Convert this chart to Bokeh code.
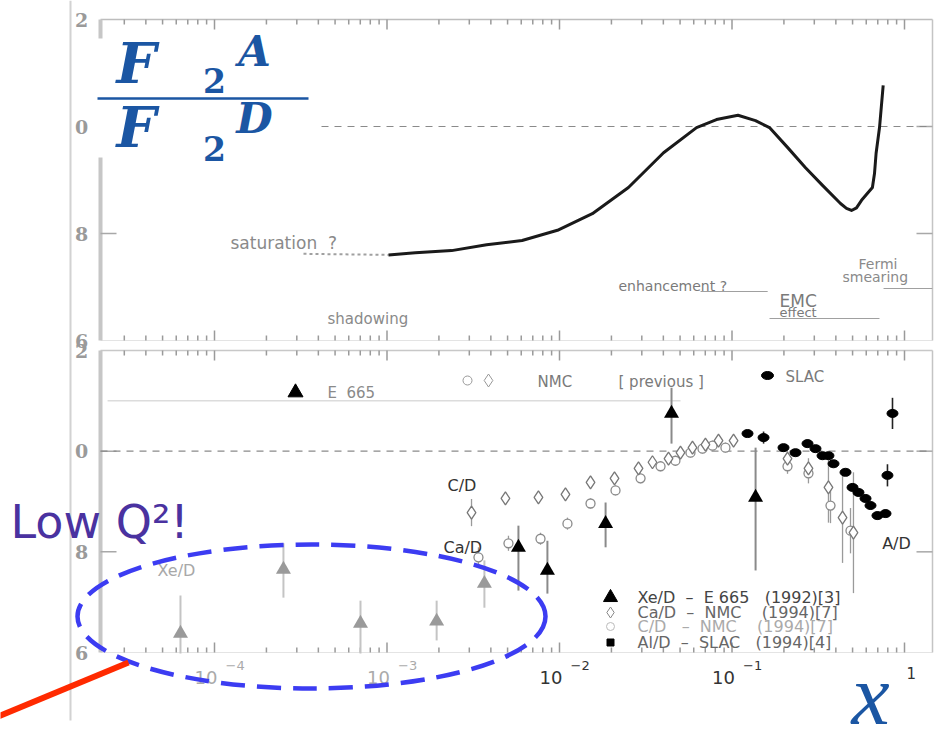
import math
from bokeh.plotting import figure
from bokeh.models import Range1d
from bokeh.core.properties import value
from bokeh.embed import file_html
from bokeh.resources import INLINE

# ---------------- data ----------------
# upper panel: calculated F2(A)/F2(D) curve
curve_x = [1.02e-3, 1.46e-3, 2.37e-3, 3.78e-3, 6.07e-3, 9.73e-3, 0.0155, 0.0251,
           0.0401, 0.0623, 0.0813, 0.1083, 0.1368, 0.1649, 0.2098, 0.2668,
           0.3348, 0.4256, 0.461, 0.4929, 0.527, 0.5634, 0.6516, 0.670, 0.6845,
           0.7164, 0.7524]
curve_y = [0.760, 0.764, 0.768, 0.779, 0.787, 0.806, 0.837, 0.886,
           0.951, 0.998, 1.013, 1.021, 1.011, 0.998, 0.961, 0.923,
           0.890, 0.856, 0.847, 0.843, 0.848, 0.862, 0.886, 0.912, 0.950,
           0.998, 1.077]
# speculative low-x continuation ("saturation ?")
sat_x = [3.28e-4, 1.02e-3]
sat_y = [0.762, 0.760]
# x-regions underlined below the curve: enhancement, EMC effect, Fermi smearing
region_x0 = [0.0657, 0.165, 0.756]
region_x1 = [0.161, 0.716, 1.45]

# lower panel: measured ratios
# Xe/D  E665 (1992)
xe_x = [6.35e-5, 2.51e-4, 7.02e-4, 1.94e-3, 3.67e-3, 5.78e-3, 8.51e-3, 0.0185, 0.0446, 0.137]
xe_y = [0.638, 0.765, 0.658, 0.662, 0.737, 0.809, 0.763, 0.856, 1.075, 0.908]
xe_lo = [0.598, 0.709, 0.598, 0.624, 0.689, 0.723, 0.717, 0.809, 1.015, 0.763]
xe_hi = [0.713, 0.817, 0.703, 0.703, 0.783, 0.852, 0.822, 0.898, 1.126, 1.007]
# C/D  NMC (1994)
cd_x = [3.09e-3, 4.86e-3, 7.55e-3, 0.01083, 0.01513, 0.02084, 0.02871, 0.03459, 0.04285,
        0.05028, 0.05902, 0.07016, 0.08351, 0.1021, 0.2098, 0.2775, 0.3624, 0.4373, 0.506]
cd_y = [0.878, 0.906, 0.908, 0.914, 0.938, 0.946, 0.966, 0.978, 0.985,
        0.997, 1.007, 1.013, 1.021, 1.021, 0.985, 0.966, 0.928, 0.868, 0.838]
cd_err = [0.027, 0.012, 0.012, 0.012, 0.012, 0.010, 0.010, 0.010, 0.010,
          0.010, 0.010, 0.010, 0.010, 0.010, 0.015, 0.020, 0.070, 0.090, 0.120]
# Ca/D  NMC (1994)
cad_x = [3.39e-3, 5.06e-3, 7.76e-3, 0.01112, 0.01513, 0.02112, 0.02951, 0.03852, 0.04699,
         0.05745, 0.06745, 0.07709, 0.09162, 0.2098, 0.2775, 0.3724, 0.4864]
cad_y = [0.789, 0.817, 0.826, 0.856, 0.896, 0.922, 0.946, 0.970, 0.981,
         0.997, 1.005, 1.011, 1.007, 0.970, 0.956, 0.892, 0.842]
cad_err = [0.020, 0.015, 0.012, 0.012, 0.010, 0.010, 0.010, 0.010, 0.010,
           0.010, 0.010, 0.010, 0.010, 0.015, 0.020, 0.035, 0.045]
# Al/D  SLAC (1994)
slac_x = [0.1230, 0.1524, 0.1989, 0.2334, 0.2740, 0.3048, 0.3348, 0.3624, 0.3877,
          0.4550, 0.4997, 0.5410, 0.5943, 0.6353, 0.6970, 0.7762, 0.7966, 0.8519]
slac_y = [1.035, 1.027, 1.007, 0.997, 1.015, 1.005, 0.991, 0.991, 0.975,
          0.958, 0.928, 0.918, 0.906, 0.892, 0.872, 0.876, 0.952, 1.075]
slac_err = [0.006, 0.012, 0.006, 0.006, 0.008, 0.006, 0.006, 0.006, 0.006,
            0.006, 0.008, 0.008, 0.008, 0.008, 0.008, 0.008, 0.022, 0.031]
# horizontal reference line of the lower panel
ref_line_x = [2.4e-5, 0.0503]
ref_line_y = 1.1

# axis labels
ytick_vals = [0.6, 0.8, 1.0, 1.2]
ytick_text = ["6", "8", "0", "2"]
xlab_vals = [1e-4, 1e-3, 1e-2, 1e-1]
xlab_exp = ["\u22124", "\u22123", "\u22122", "\u22121"]
NB = "\u00a0"
legend_text = [f"Xe/D{NB*2}\u2013{NB*2}E{NB}665{NB*3}(1992)[3]",
               f"Ca/D{NB*2}\u2013{NB*2}NMC{NB*4}(1994)[7]",
               f"C/D{NB*3}\u2013{NB*2}NMC{NB*4}(1994)[7]",
               f"Al/D{NB*2}\u2013{NB*2}SLAC{NB*3}(1994)[4]"]

# ---------------- geometry ----------------
W, H = 935, 747
DEC = 172.5          # pixels per decade of x
PX_ONE = 904         # pixel column of x = 1
TOP_PIX = (19, 340)  # rows of 1.2 and 0.6, upper panel
BOT_PIX = (350, 652) # rows of 1.2 and 0.6, lower panel
YLO, YHI = 0.6, 1.2
LEFT, RIGHT = 100, 932


def xd(px):
    return 10 ** ((px - PX_ONE) / DEC)


def y_of(py, pix):
    return YHI - (py - pix[0]) * (YHI - YLO) / (pix[1] - pix[0])


def yt(py):
    return y_of(py, TOP_PIX)


def yb(py):
    return y_of(py, BOT_PIX)


p = figure(width=W, height=H, x_axis_type="log", x_axis_location=None, y_axis_location=None,
           x_range=Range1d(xd(0), xd(W)), y_range=Range1d(yb(H), yb(0)),
           min_border=0, toolbar_location=None, output_backend="svg")
p.extra_y_ranges = {"top": Range1d(yt(H), yt(0))}
p.grid.visible = False
p.outline_line_color = None
p.background_fill_color = "white"
p.border_fill_color = "white"

XL, XR = xd(LEFT), xd(RIGHT)


def seg(x0, y0, x1, y1, rng="default", **kw):
    p.segment(x0=x0, y0=y0, x1=x1, y1=y1, y_range_name=rng, **kw)


def txt(px, py, s, rng="default", size=15, color="#777", font="DejaVu Sans",
        style="normal", align="left"):
    y = yt(py) if rng == "top" else yb(py)
    p.text(x=[xd(px)], y=[y], text=[s], y_range_name=rng,
           text_font=value(font), text_font_size=value(f"{size}px"),
           text_font_style=value(style), text_color=color,
           text_align=align, text_baseline="middle")


# image border line on the left
seg([xd(70)], [yb(0)], [xd(70)], [yb(720)], line_color="#d2d2d2", line_width=2)

# ---------------- frames, ticks ----------------
log_ticks = [k * 10.0 ** d for d in range(-5, 1) for k in range(1, 10)]
log_ticks = [t for t in log_ticks if XL < t < XR]
tick_len = [10 if abs(math.log10(t) - round(math.log10(t))) < 1e-9 else 5 for t in log_ticks]
for rng, pix, top_col, bot_col in (("top", TOP_PIX, "#bdbdbd", "#e4e4e4"),
                                   ("default", BOT_PIX, "#c8c8c8", "#e4e4e4")):
    unit = (YHI - YLO) / (pix[1] - pix[0])
    seg([XL], [YHI], [XR], [YHI], rng, line_color=top_col, line_width=1.5)
    seg([XL], [YLO], [XR], [YLO], rng, line_color=bot_col, line_width=1)
    seg([XL], [YLO], [XL], [YHI], rng, line_color="#c6c6c6", line_width=4)
    seg([XR], [YLO], [XR], [YHI], rng, line_color="#c4c4c4", line_width=1.5)
    seg(log_ticks, [YHI] * len(log_ticks), log_ticks, [YHI - L * unit for L in tick_len], rng,
        line_color="#9a9a9a", line_width=1.5)
    seg(log_ticks, [YLO] * len(log_ticks), log_ticks, [YLO + L * unit for L in tick_len], rng,
        line_color="#9a9a9a", line_width=1.5)
    for v in (0.8, 1.0):
        seg([XL, XR], [v, v], [xd(LEFT + 16), xd(RIGHT - 16)], [v, v], rng,
            line_color="#a8a8a8", line_width=1.5)
    seg([XL], [1.0], [XR], [1.0], rng, line_color="#8a8a8a", line_width=1.2, line_dash="7 6")
    for v, s in zip(ytick_vals, ytick_text):
        py = pix[0] + (YHI - v) / unit
        txt(81, py, s, rng, size=19, color="#9a9a9a", font="DejaVu Serif",
            style="bold", align="center")

# ---------------- upper panel ----------------
p.line(sat_x, sat_y, y_range_name="top", line_color="#a0a0a0", line_width=2, line_dash="3 3")
p.line(curve_x, curve_y, y_range_name="top", line_color="#1a1a1a", line_width=3,
       line_join="round")

reg_levels = [yt(291), yt(318), yt(288)]
seg(region_x0, reg_levels, region_x1, reg_levels, "top", line_color="#a0a0a0", line_width=1.2)

txt(230, 242, f"saturation{NB*2}?", "top", size=17, color="#8a8a8a")
txt(327, 318, "shadowing", "top", size=15, color="#8a8a8a")
txt(618, 285, "enhancement ?", "top", size=14, color="#7a7a7a")
txt(779, 300, "EMC", "top", size=17, color="#7a7a7a")
txt(779, 312, "effect", "top", size=13, color="#7a7a7a")
txt(858, 263, "Fermi", "top", size=14, color="#8a8a8a")
txt(842, 276, "smearing", "top", size=14, color="#8a8a8a")

# ratio symbol
p.quad(left=[xd(95)], right=[xd(318)], bottom=[yt(157)], top=[yt(38)], y_range_name="top",
       fill_color="white", line_color=None)
blue = "#1b56a3"
txt(136, 62, "F", "top", size=56, color=blue, font="DejaVu Serif", style="bold italic",
    align="center")
txt(214, 80, "2", "top", size=33, color=blue, font="DejaVu Serif", style="bold",
    align="center")
txt(254, 51, "A", "top", size=42, color=blue, font="DejaVu Serif", style="bold italic",
    align="center")
seg([xd(97)], [yt(98)], [xd(308)], [yt(98)], "top", line_color=blue, line_width=2.5)
txt(136, 126, "F", "top", size=56, color=blue, font="DejaVu Serif", style="bold italic",
    align="center")
txt(214, 148, "2", "top", size=33, color=blue, font="DejaVu Serif", style="bold",
    align="center")
txt(254, 118, "D", "top", size=42, color=blue, font="DejaVu Serif", style="bold italic",
    align="center")

# ---------------- lower panel ----------------
p.line(ref_line_x, [ref_line_y] * 2, line_color="#dcdcdc", line_width=1.5)

# error bars
xe_low = [x < 5e-3 for x in xe_x]
seg(xe_x, xe_lo, xe_x, xe_hi, line_color=["#c4c4c4" if g else "#8a8a8a" for g in xe_low],
    line_width=2)
seg(cd_x, [y - e for y, e in zip(cd_y, cd_err)], cd_x, [y + e for y, e in zip(cd_y, cd_err)],
    line_color="#9a9a9a", line_width=1.3)
seg(cad_x, [y - e for y, e in zip(cad_y, cad_err)], cad_x, [y + e for y, e in zip(cad_y, cad_err)],
    line_color="#9a9a9a", line_width=1.3)
seg(slac_x, [y - e for y, e in zip(slac_y, slac_err)], slac_x,
    [y + e for y, e in zip(slac_y, slac_err)], line_color="#222", line_width=1.6)

# markers
p.scatter(cad_x, cad_y, marker="circle", size=9, fill_color="white", line_color="#8a8a8a",
          line_width=1.3)
p.scatter(cd_x, cd_y, marker="diamond", size=13, fill_color="white", line_color="#777",
          line_width=1.3)
p.scatter(xe_x, xe_y, marker="triangle", size=15, line_color=None,
          fill_color=["#9a9a9a" if g else "black" for g in xe_low])
p.ellipse(slac_x, slac_y, width=11, height=8, width_units="screen", height_units="screen",
          fill_color="black", line_color="black")

# in-plot labels
txt(447, 485, "C/D", size=16, color="#333")
txt(443, 547, "Ca/D", size=16, color="#333")
txt(176, 570, "Xe/D", size=16, color="#a8a8a8", align="center")
txt(896, 543, "A/D", size=16, color="#333", align="center")

# header keys of the lower panel
p.scatter([xd(295)], [yb(392)], marker="triangle", size=15, color="black")
txt(327, 392, f"E{NB*2}665", size=15, color="#8a8a8a")
p.scatter([xd(467)], [yb(380)], marker="circle", size=9, fill_color="white", line_color="#999")
p.scatter([xd(488)], [yb(380)], marker="diamond", size=13, fill_color="white", line_color="#999")
txt(537, 381, "NMC", size=15, color="#7a7a7a")
txt(618, 381, f"[{NB}previous{NB}]", size=15, color="#7a7a7a")
p.ellipse([xd(767)], [yb(375)], width=12, height=8, width_units="screen", height_units="screen",
          fill_color="black", line_color="black")
txt(785, 376, "SLAC", size=15, color="#7a7a7a")

# legend
rows = [597, 612, 626, 642]
p.scatter([xd(610)], [yb(rows[0])], marker="triangle", size=14, color="black")
p.scatter([xd(610)], [yb(rows[1])], marker="diamond", size=11, fill_color="white", line_color="#888")
p.scatter([xd(610)], [yb(rows[2])], marker="circle", size=8, fill_color="white", line_color="#bbb")
p.scatter([xd(610)], [yb(rows[3])], marker="square", size=7, color="black")
for r, s, c in zip(rows, legend_text, ["#444", "#666", "#aaa", "#666"]):
    txt(637, r, s, size=16, color=c)

# x tick labels
for v, e, c in zip(xlab_vals, xlab_exp, ["#aaa", "#aaa", "#333", "#333"]):
    p.text(x=[v * 10 ** (3 / DEC)], y=[yb(677)], text=["10"], text_font=value("DejaVu Sans"),
           text_font_size=value("18px"), text_color=c, text_align="right",
           text_baseline="middle")
    p.text(x=[v * 10 ** (11 / DEC)], y=[yb(665)], text=[e], text_font=value("DejaVu Sans"),
           text_font_size=value("13px"), text_color=c, text_align="left",
           text_baseline="middle")
p.text(x=[1.0 * 10 ** (2 / DEC)], y=[yb(672)], text=["1"], text_font=value("DejaVu Sans"),
       text_font_size=value("15px"), text_color="#333", text_align="left",
       text_baseline="middle")

# x variable
txt(870, 694, "x", size=86, color=blue, font="Liberation Serif", style="italic", align="center")

# ---------------- highlight of the low-Q2 region ----------------
p.ellipse([xd(311)], [yb(616)], width=468, height=144, width_units="screen",
          height_units="screen", fill_color=None, line_color="#3c3cf2", line_width=4.5,
          line_dash="24 12")
p.line([xd(-5), xd(128)], [yb(717), yb(662)], line_color="#ff2a00", line_width=6)
txt(10, 521, "Low Q\u00b2!", size=46, color="#4a32a0")

open("out.html", "w").write(file_html(p, INLINE))
